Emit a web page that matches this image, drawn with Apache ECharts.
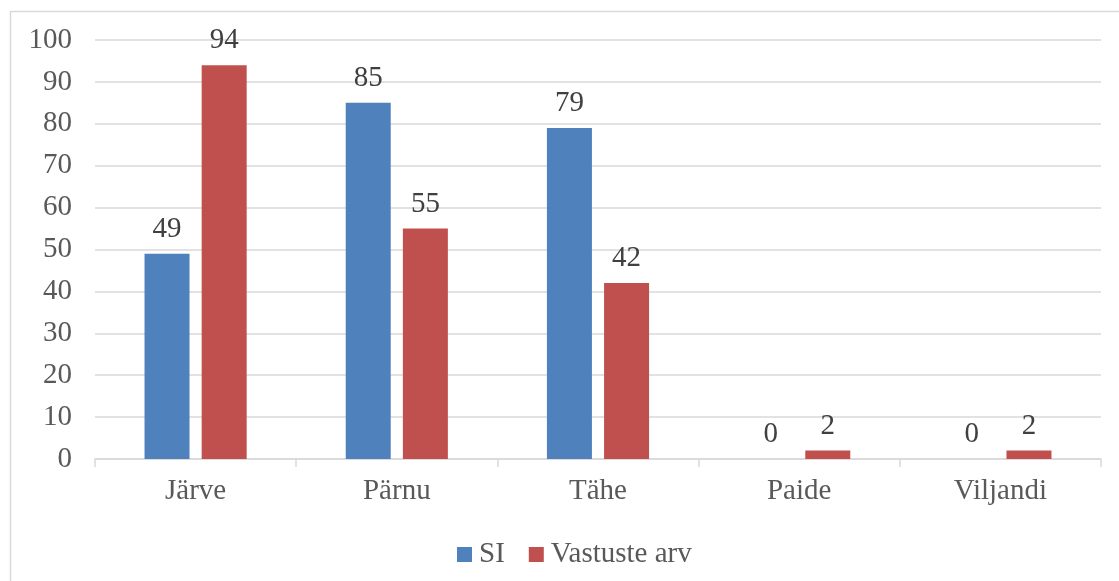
<!DOCTYPE html>
<html>
<head>
<meta charset="utf-8">
<script src="https://cdn.jsdelivr.net/npm/echarts@6/dist/echarts.min.js"></script>
<style>
  html, body { margin: 0; padding: 0; background: #ffffff; }
  #chart { width: 1119px; height: 581px; }
</style>
</head>
<body>
<div id="chart"></div>
<script>
// Categories and series values
const categories = ['Järve', 'Pärnu', 'Tähe', 'Paide', 'Viljandi'];
const siValues = [49, 85, 79, 0, 0];
const vastusteValues = [94, 55, 42, 2, 2];
const seriesNames = ['SI', 'Vastuste arv'];
const yTicks = { min: 0, max: 100, interval: 10 };

const FONT = '"Liberation Serif", "Times New Roman", serif';
const FS = 29;
const TEXT = '#595959';
const LINE = '#D9D9D9';

const chart = echarts.init(document.getElementById('chart'), null, { renderer: 'canvas' });

const labelStyle = {
  show: true,
  position: 'top',
  distance: 10,
  fontFamily: FONT,
  fontSize: FS,
  color: '#404040'
};

chart.setOption({
  animation: false,
  backgroundColor: '#ffffff',
  graphic: [{
    type: 'rect',
    left: 8, top: 9,
    shape: { width: 1200, height: 700 },
    style: { fill: 'none', stroke: LINE, lineWidth: 1.5 },
    silent: true
  }],
  grid: { left: 95, right: 18, top: 40, bottom: 122, containLabel: false },
  legend: {
    data: seriesNames,
    left: 452,
    top: 535,
    icon: 'rect',
    itemWidth: 15,
    itemHeight: 15,
    itemGap: 24,
    textStyle: { fontFamily: FONT, fontSize: FS, color: TEXT, padding: [0, 0, 0, 2] }
  },
  xAxis: {
    type: 'category',
    data: categories,
    axisLine: { lineStyle: { color: LINE, width: 1.5 } },
    axisTick: { show: true, length: 8, lineStyle: { color: LINE, width: 1.5 } },
    axisLabel: { margin: 18, fontFamily: FONT, fontSize: FS, color: TEXT }
  },
  yAxis: {
    type: 'value',
    min: yTicks.min,
    max: yTicks.max,
    interval: yTicks.interval,
    axisLine: { show: false },
    axisTick: { show: false },
    splitLine: { lineStyle: { color: LINE, width: 1.5 } },
    axisLabel: { margin: 23, fontFamily: FONT, fontSize: FS, color: TEXT }
  },
  series: [
    {
      name: seriesNames[0],
      type: 'bar',
      data: siValues,
      barWidth: 45,
      barGap: '27%',
      itemStyle: { color: '#4F81BD' },
      label: labelStyle
    },
    {
      name: seriesNames[1],
      type: 'bar',
      data: vastusteValues,
      barWidth: 45,
      barGap: '27%',
      itemStyle: { color: '#C0504D' },
      label: labelStyle
    }
  ]
});
</script>
</body>
</html>
